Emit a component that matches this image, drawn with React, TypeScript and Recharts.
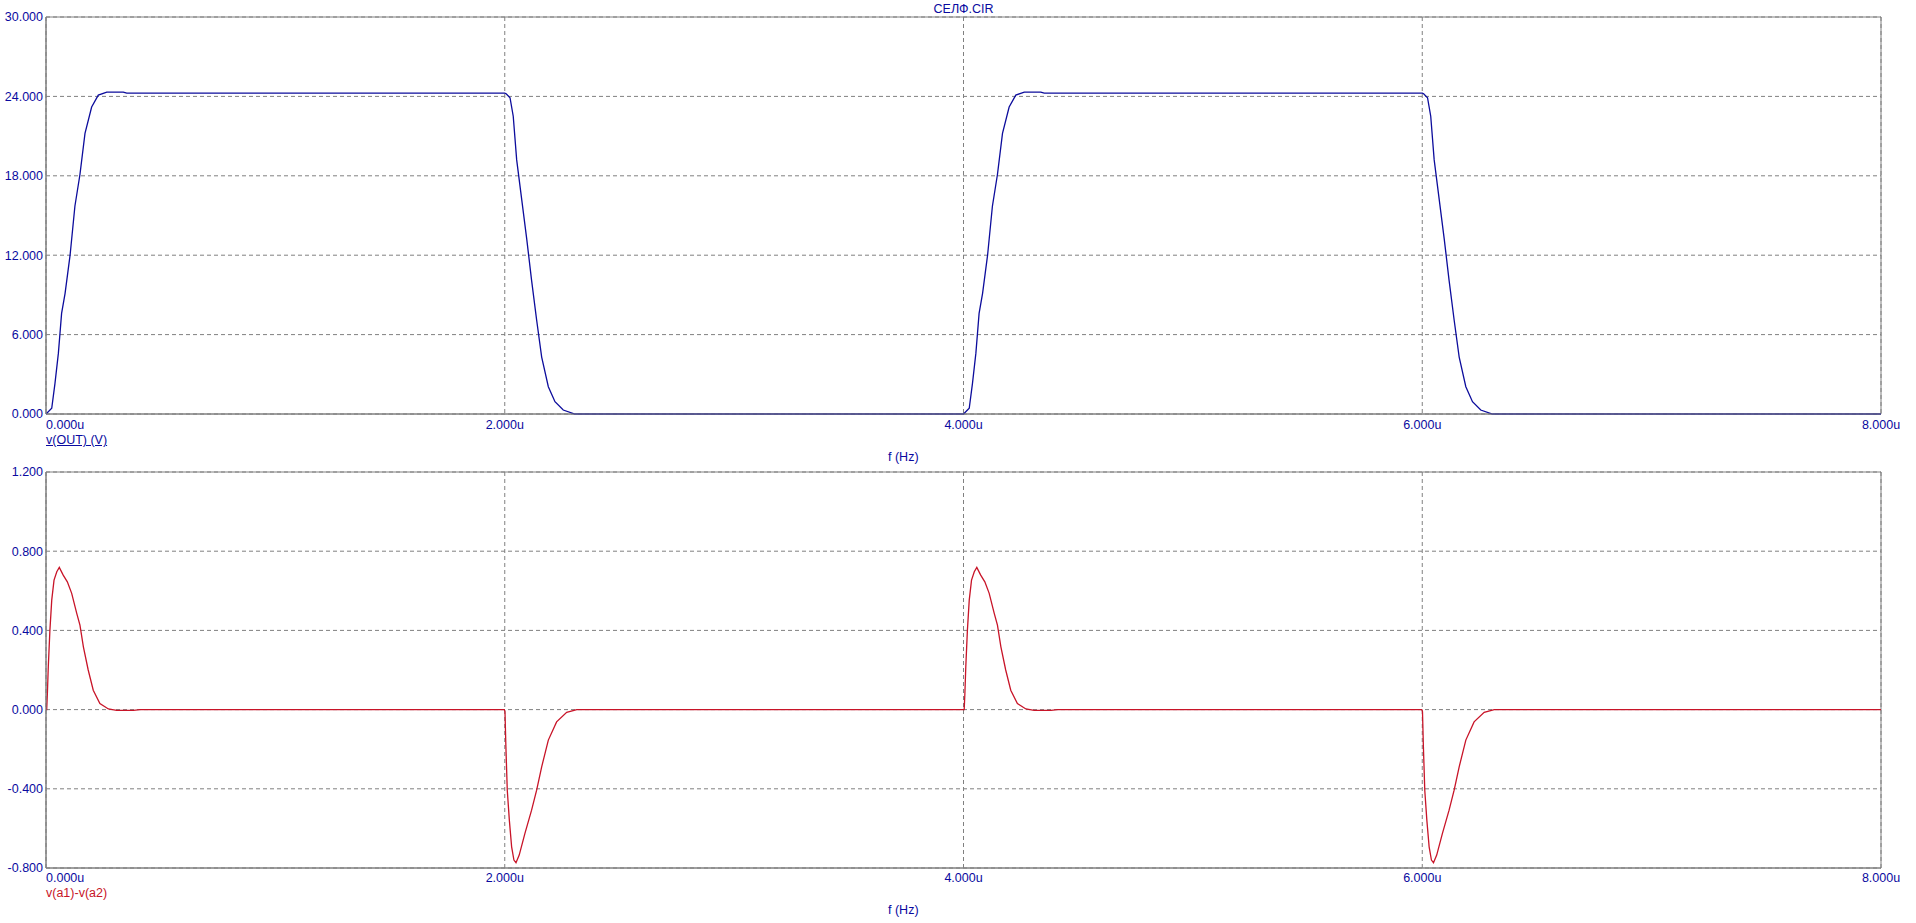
import { LineChart, Line, XAxis, YAxis, CartesianGrid, ReferenceArea } from 'recharts';

const TIME_TICKS = [0, 2, 4, 6, 8];
const OUT_TICKS = [0, 6, 12, 18, 24, 30];
const DIFF_TICKS = [-0.8, -0.4, 0, 0.4, 0.8, 1.2];

// v(OUT), time in microseconds
const outTimeUs = [
  0, 0.025, 0.039, 0.054, 0.068, 0.083, 0.105, 0.126, 0.148, 0.17, 0.199, 0.228, 0.265, 0.337, 0.352,
  2.0, 2.006, 2.023, 2.037, 2.052, 2.074, 2.096, 2.117, 2.139, 2.161, 2.19, 2.219, 2.255, 2.306,
  4.0, 4.025, 4.039, 4.054, 4.068, 4.083, 4.105, 4.126, 4.148, 4.17, 4.199, 4.228, 4.265, 4.337, 4.352,
  6.0, 6.006, 6.023, 6.037, 6.052, 6.074, 6.096, 6.117, 6.139, 6.161, 6.19, 6.219, 6.255, 6.306,
  8.0,
];
const outVolts = [
  0, 0.43, 2.3, 4.6, 7.6, 9.1, 12.0, 15.7, 18.1, 21.2, 23.2, 24.1, 24.33, 24.33, 24.25,
  24.25, 24.2, 23.9, 22.5, 19.2, 16.2, 13.2, 10.1, 7.1, 4.3, 2.06, 0.93, 0.3, 0,
  0, 0.43, 2.3, 4.6, 7.6, 9.1, 12.0, 15.7, 18.1, 21.2, 23.2, 24.1, 24.33, 24.33, 24.25,
  24.25, 24.2, 23.9, 22.5, 19.2, 16.2, 13.2, 10.1, 7.1, 4.3, 2.06, 0.93, 0.3, 0,
  0,
];

// v(a1)-v(a2)
const diffTimeUs = [
  0, 0.003, 0.006, 0.01, 0.017, 0.025, 0.035, 0.047, 0.058, 0.075, 0.093, 0.112, 0.134, 0.148, 0.163,
  0.184, 0.206, 0.235, 0.272, 0.308, 0.381, 0.41,
  1.998, 2.001, 2.005, 2.011, 2.02, 2.03, 2.04, 2.049, 2.063, 2.088, 2.117, 2.139, 2.161, 2.19, 2.226,
  2.27, 2.314,
  4.0, 4.003, 4.006, 4.01, 4.017, 4.025, 4.035, 4.047, 4.058, 4.075, 4.093, 4.112, 4.134, 4.148, 4.163,
  4.184, 4.206, 4.235, 4.272, 4.308, 4.381, 4.41,
  5.998, 6.001, 6.005, 6.011, 6.02, 6.03, 6.04, 6.049, 6.063, 6.088, 6.117, 6.139, 6.161, 6.19, 6.226,
  6.27, 6.314,
  8.0,
];
const diffVolts = [
  0, 0.0, 0.08, 0.216, 0.4, 0.553, 0.654, 0.696, 0.718, 0.679, 0.645, 0.587, 0.486, 0.427, 0.317,
  0.2, 0.098, 0.031, 0.003, -0.004, -0.004, 0,
  0, -0.01, -0.188, -0.407, -0.558, -0.693, -0.76, -0.773, -0.735, -0.625, -0.508, -0.407, -0.289, -0.154, -0.062,
  -0.014, 0,
  0, 0.0, 0.08, 0.216, 0.4, 0.553, 0.654, 0.696, 0.718, 0.679, 0.645, 0.587, 0.486, 0.427, 0.317,
  0.2, 0.098, 0.031, 0.003, -0.004, -0.004, 0,
  0, -0.01, -0.188, -0.407, -0.558, -0.693, -0.76, -0.773, -0.735, -0.625, -0.508, -0.407, -0.289, -0.154, -0.062,
  -0.014, 0,
  0,
];

const outData = outTimeUs.map((t, i) => ({ t, v: outVolts[i] }));
const diffData = diffTimeUs.map((t, i) => ({ t, v: diffVolts[i] }));

const TEXT_BLUE = '#0a0aa0';
const LINE_BLUE = '#0c0c9c';
const LINE_RED = '#c81428';
const FRAME = '#808080';
const FONT = '"Liberation Sans", Arial, sans-serif';
const FS = 12.5;

function TimeTick(props: any) {
  const { x, y, payload, index } = props;
  return (
    <text x={x} y={y} dy="0.71em" textAnchor={index === 0 ? 'start' : 'middle'} fill={TEXT_BLUE} fontSize={FS} fontFamily={FONT}>
      {`${Number(payload.value).toFixed(3)}u`}
    </text>
  );
}

function Plot({ data, ticks, domain, color, height, margin, tickGap }: any) {
  return (
    <LineChart width={1916} height={height} data={data} margin={margin}>
      <CartesianGrid stroke={FRAME} strokeDasharray="4 3" />
      <XAxis
        dataKey="t"
        type="number"
        domain={[0, 8]}
        ticks={TIME_TICKS}
        height={30}
        tickSize={0}
        tickMargin={tickGap}
        tickLine={false}
        axisLine={{ stroke: FRAME }}
        tick={<TimeTick />}
        interval={0}
      />
      <YAxis
        type="number"
        domain={domain}
        ticks={ticks}
        width={46}
        tickSize={0}
        tickMargin={3}
        tickLine={false}
        axisLine={{ stroke: FRAME }}
        interval={0}
        tickFormatter={(v: number) => v.toFixed(3)}
        tick={{ fill: TEXT_BLUE, fontSize: FS, fontFamily: FONT }}
      />
      <ReferenceArea x1={0} x2={8} y1={domain[0]} y2={domain[1]} fill="none" stroke={FRAME} ifOverflow="extendDomain" />
      <Line type="linear" dataKey="v" stroke={color} strokeWidth={1.3} dot={false} isAnimationActive={false} />
    </LineChart>
  );
}

const label = (left: number, top: number, color: string, extra: any = {}) => ({
  position: 'absolute' as const,
  left,
  top,
  color,
  fontFamily: FONT,
  fontSize: FS,
  lineHeight: '14px',
  whiteSpace: 'nowrap' as const,
  ...extra,
});

export default function App() {
  return (
    <div style={{ position: 'absolute', left: 0, top: 0, width: 1916, height: 923, background: '#fff', overflow: 'hidden' }}>
      <div style={{ position: 'absolute', left: 0, top: 0 }}>
        <Plot data={outData} ticks={OUT_TICKS} domain={[0, 30]} color={LINE_BLUE} height={460} margin={{ top: 17, right: 35, left: 0, bottom: 16 }} tickGap={6} />
      </div>
      <div style={{ position: 'absolute', left: 0, top: 460 }}>
        <Plot data={diffData} ticks={DIFF_TICKS} domain={[-0.8, 1.2]} color={LINE_RED} height={463} margin={{ top: 12, right: 35, left: 0, bottom: 25 }} tickGap={5} />
      </div>
      <div style={label(963.5, 2, TEXT_BLUE, { transform: 'translateX(-50%)' })}>СЕЛФ.CIR</div>
      <div style={label(46, 433, TEXT_BLUE, { textDecoration: 'underline' })}>v(OUT) (V)</div>
      <div style={label(888, 450, TEXT_BLUE)}>f (Hz)</div>
      <div style={label(46, 886, LINE_RED)}>v(a1)-v(a2)</div>
      <div style={label(888, 903, TEXT_BLUE)}>f (Hz)</div>
    </div>
  );
}
